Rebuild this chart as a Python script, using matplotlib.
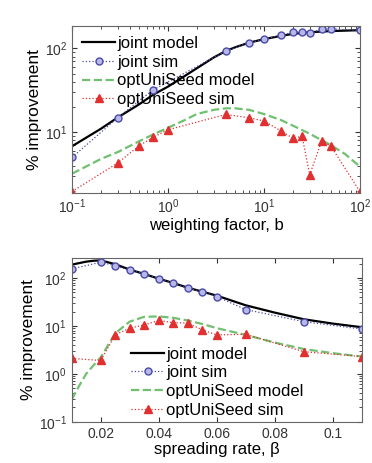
import matplotlib.pyplot as plt
import numpy as np

plt.rcParams['font.family'] = ['Liberation Sans', 'DejaVu Sans']
plt.rcParams['mathtext.default'] = 'regular'

# top panel: weighting factor b
b_model = [0.1, 0.2, 0.3, 0.5, 0.7, 1, 1.5, 2, 3, 4, 5, 7, 10, 15, 20, 30, 50, 70, 100]
joint_model_b = [6.8, 11.0, 15.0, 21.5, 28, 35, 47, 58, 78, 93, 103, 117, 129, 141, 149, 156, 161, 163, 165]
uni_model_b = [3.2, 4.8, 5.8, 7.8, 9.4, 11.3, 14, 16.5, 18.5, 19.3, 19.3, 18.5, 16.5, 14, 12, 9.6, 7, 5.5, 3.9]

b_joint_sim = [0.1, 0.3, 0.7, 4, 7, 10, 15, 20, 25, 30, 40, 50, 100]
joint_sim_b = [5.0, 14.9, 32, 93, 117, 128, 144, 155, 158, 151, 170, 170, 165]

b_uni_sim = [0.1, 0.3, 0.5, 0.7, 1, 4, 7, 10, 15, 20, 25, 30, 40, 50, 100]
uni_sim_b = [1.96, 4.3, 6.9, 8.7, 10.7, 16.3, 14.9, 13.6, 10.4, 8.5, 8.9, 3.1, 7.9, 6.8, 1.96]

# bottom panel: spreading rate beta
beta_model = [0.01, 0.0125, 0.015, 0.0175, 0.02, 0.025, 0.03, 0.035, 0.04, 0.045, 0.05,
              0.055, 0.06, 0.07, 0.08, 0.09, 0.1, 0.11]
joint_model_beta = [190, 205, 220, 230, 234, 195, 150, 122, 97, 79, 63, 52, 43, 27, 19, 13.8, 11.2, 9.4]
uni_model_beta = [0.29, 0.55, 1.0, 1.5, 2.2, 7.0, 12.3, 15.5, 15.8, 14.8, 13, 11, 9, 6.5, 4.5, 3.3, 2.7, 2.3]

beta_sim = [0.01, 0.02, 0.025, 0.03, 0.035, 0.04, 0.045, 0.05, 0.055, 0.06, 0.07, 0.09, 0.11]
joint_sim_beta = [155, 214, 182, 145, 123, 96, 78, 62, 52, 41, 22, 12.3, 8.6]
uni_sim_beta = [2.1, 1.9, 6.5, 9.0, 10.5, 13, 11.7, 11.5, 8.3, 6.5, 6.7, 2.9, 2.3]

labels = ['joint model', 'joint sim', 'optUniSeed model', 'optUniSeed sim']
beta_ticks = [0.02, 0.04, 0.06, 0.08, 0.1]
beta_ticklabels = ['0.02', '0.04', '0.06', '0.08', '0.1']

blue = '#4a4aa8'
green = '#70c070'
red = '#e03030'


def draw(ax, x_model, jm, um, x_js, js, x_us, us):
    ax.plot(x_model, jm, '-', color='black', lw=1.6, label=labels[0])
    ax.plot(x_js, js, ':', color=blue, lw=0.9, marker='o', ms=5,
            mfc='#b8b8e8', mec=blue, mew=1.0, label=labels[1])
    ax.plot(x_model, um, '--', color=green, lw=1.6, label=labels[2])
    ax.plot(x_us, us, ':', color=red, lw=0.9, marker='^', ms=5.5,
            mfc=red, mec=red, label=labels[3])
    ax.set_yscale('log')
    ax.tick_params(which='both', direction='in', top=True, right=True,
                   labelsize=10, colors='#333333')
    for s in ax.spines.values():
        s.set_color('#666666')
    ax.set_ylabel('% improvement', fontsize=12.5, labelpad=2)


fig = plt.figure(figsize=(3.72, 4.63), dpi=100)

ax1 = fig.add_axes([0.1935, 0.5838, 0.774, 0.360])
draw(ax1, b_model, joint_model_b, uni_model_b, b_joint_sim, joint_sim_b, b_uni_sim, uni_sim_b)
ax1.set_xscale('log')
ax1.set_xlim(0.1, 100)
ax1.set_ylim(1.9, 185)
ax1.set_xlabel('weighting factor, b', fontsize=12, labelpad=1)
ax1.legend(loc='upper left', frameon=False, fontsize=12, handlelength=2.0,
           handletextpad=0.1, labelspacing=0.22, borderpad=0.15, borderaxespad=0.45)

ax2 = fig.add_axes([0.1927, 0.0892, 0.7796, 0.354])
draw(ax2, beta_model, joint_model_beta, uni_model_beta, beta_sim, joint_sim_beta, beta_sim, uni_sim_beta)
ax2.set_xlim(0.01, 0.11)
ax2.set_ylim(0.1, 265)
ax2.set_xticks(beta_ticks)
ax2.set_xticklabels(beta_ticklabels)
ax2.set_xlabel('spreading rate, β', fontsize=12, labelpad=1)
ax2.legend(loc='lower left', bbox_to_anchor=(0.19, 0.0), frameon=False, fontsize=12,
           handlelength=2.0, handletextpad=0.1, labelspacing=0.22, borderpad=0.15,
           borderaxespad=0.1)

fig.savefig('out.png', dpi=100)
